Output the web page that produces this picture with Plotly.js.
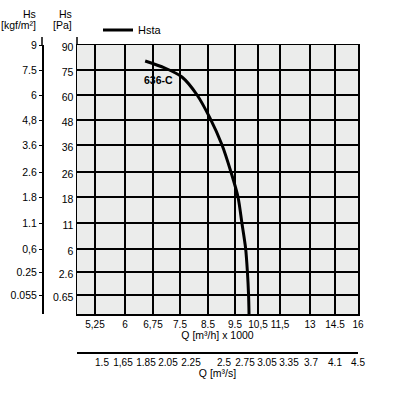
<!DOCTYPE html>
<html>
<head>
<meta charset="utf-8">
<script src="https://cdn.plot.ly/plotly-3.0.1.min.js"></script>
<style>html,body{margin:0;padding:0;background:#fff;}#chart{width:393px;height:395px;}</style>
</head>
<body>
<div id="chart"></div>
<script>
// ---- data ----
const seriesName = 'Hsta';
const curveLabel = '636-C';
const flowQ = [6.54, 7.08, 7.57, 8.11, 8.57, 9.02, 9.35, 9.63, 9.80, 9.96, 10.04, 10.09, 10.11]; // m3/h x 1000
const pressureHs = [80.4, 76.2, 70.8, 60, 49, 36, 26, 18, 11, 6.2, 2.6, 0.65, 0];              // Pa

// tick values / labels
const qTicks = [5.25, 6, 6.75, 7.5, 8.5, 9.5, 10.5, 11.5, 13, 14.5, 16];
const qTickText = ['5,25', '6', '6,75', '7.5', '8.5', '9.5', '10,5', '11,5', '13', '14.5', '16'];
const qsTickText = ['1.5', '1,65', '1.85', '2.05', '2.25', '2.5', '2.75', '3.05', '3.35', '3.7', '4.1', '4.5'];
const paTicks = [0.65, 2.6, 6, 11, 18, 26, 36, 48, 60, 75, 90];
const paTickText = ['0.65', '2.6', '6', '11', '18', '26', '36', '48', '60', '75', '90'];
const kgfTickText = ['0.055', '0.25', '0,6', '1.1', '1.8', '2.6', '3.6', '4,8', '6', '7.5', '9'];

// ---- the chart's non-uniform scales (value -> axis position) ----
const qScalePos = [18, 48, 76, 103, 131, 158, 181, 203, 233, 258, 281];
const qsScalePos = [25, 46, 69, 91, 114, 147, 168, 190, 212, 234, 258, 281];
const paScaleVals = [0].concat(paTicks);
const paScalePos = [0, 19, 42, 65, 91, 117, 142, 169, 194, 219, 244, 269];

function interp(v, vals, pos) {
  if (v <= vals[0]) {
    const s = (pos[1] - pos[0]) / (vals[1] - vals[0]);
    return pos[0] + (v - vals[0]) * s;
  }
  for (let i = 1; i < vals.length; i++) {
    if (v <= vals[i]) {
      const t = (v - vals[i - 1]) / (vals[i] - vals[i - 1]);
      return pos[i - 1] + t * (pos[i] - pos[i - 1]);
    }
  }
  const n = vals.length - 1;
  const s = (pos[n] - pos[n - 1]) / (vals[n] - vals[n - 1]);
  return pos[n] + (v - vals[n]) * s;
}

const xs = flowQ.map(q => interp(q, qTicks, qScalePos));
const ys = pressureHs.map(p => interp(p, paScaleVals, paScalePos));

const FONT = '"Liberation Sans", Arial, sans-serif';
const W = 393, H = 395;
const mL = 0, mR = 35, mT = 45, mB = 20;
const plotW = W - mL - mR, plotH = H - mT - mB;
const px2x = p => (p - mL) / plotW;
const py2y = p => (H - mB - p) / plotH;

const curve = {
  x: xs, y: ys, type: 'scatter', mode: 'lines', name: seriesName,
  line: {color: '#000', width: 3, shape: 'spline', smoothing: 0.8},
  hoverinfo: 'skip'
};
// carrier so the secondary (m3/s and kgf/m2) axes are drawn
const secondaryAxes = {
  x: [qsScalePos[0]], y: [paScalePos[1]], xaxis: 'x2', yaxis: 'y2',
  type: 'scatter', mode: 'none', showlegend: false, hoverinfo: 'skip'
};

const f105 = {family: FONT, size: 10.5, color: '#000'};
const f10 = {family: FONT, size: 10, color: '#000'};

const layout = {
  width: W, height: H,
  margin: {l: mL, r: mR, t: mT, b: mB},
  paper_bgcolor: '#fff',
  plot_bgcolor: '#ebeceb',
  font: f105,
  showlegend: true,
  legend: {x: px2x(98), xanchor: 'left', y: py2y(30), yanchor: 'middle',
           font: {family: FONT, size: 11, color: '#000'}, bgcolor: 'rgba(0,0,0,0)', borderwidth: 0},
  xaxis: {
    domain: [px2x(77), 1], range: [0, 281], fixedrange: true,
    tickmode: 'array', tickvals: qScalePos, ticktext: qTickText, tickangle: 0,
    showgrid: true, gridcolor: '#000', gridwidth: 1.5, zeroline: false,
    showline: true, mirror: true, linecolor: '#000', linewidth: 1.5,
    ticks: '', tickfont: f10,
    title: {text: 'Q [m³/h] x 1000', font: f105, standoff: 3}
  },
  xaxis2: {
    overlaying: 'x', anchor: 'free', position: py2y(352), side: 'bottom',
    range: [0, 281], fixedrange: true,
    tickmode: 'array', tickvals: qsScalePos, ticktext: qsTickText, tickangle: 0,
    showgrid: false, zeroline: false, showline: true, linecolor: '#000', linewidth: 1.5,
    ticks: '', tickfont: f10,
    title: {text: 'Q [m³/s]', font: f105, standoff: 3}
  },
  yaxis: {
    domain: [py2y(314), 1], range: [0, 269], fixedrange: true,
    tickmode: 'array', tickvals: paScalePos.slice(1), ticktext: paTickText,
    showgrid: true, gridcolor: '#000', gridwidth: 1.5, zeroline: false,
    showline: true, mirror: true, linecolor: '#000', linewidth: 1.5,
    ticks: '', tickfont: f105, ticklabelshift: 2
  },
  yaxis2: {
    overlaying: 'y', anchor: 'free', position: px2x(42), side: 'left',
    range: [0, 269], fixedrange: true,
    tickmode: 'array', tickvals: paScalePos.slice(1), ticktext: kgfTickText,
    showgrid: false, zeroline: false, showline: true, linecolor: '#000', linewidth: 1.5,
    ticks: 'outside', ticklen: 3, tickcolor: '#000', tickwidth: 1,
    tickfont: f105
  },
  shapes: [
    {type: 'line', xref: 'paper', yref: 'paper', x0: px2x(77), x1: px2x(77), y0: 1, y1: py2y(37),
     line: {color: '#000', width: 1.5}},
    {type: 'line', xref: 'paper', yref: 'paper', x0: px2x(42), x1: px2x(42), y0: 1, y1: py2y(37),
     line: {color: '#000', width: 1.5}}
  ],
  annotations: [
    {xref: 'paper', yref: 'paper', x: px2x(38), y: py2y(14), xanchor: 'right', yanchor: 'middle',
     text: 'Hs', showarrow: false, font: f105},
    {xref: 'paper', yref: 'paper', x: px2x(38), y: py2y(25), xanchor: 'right', yanchor: 'middle',
     text: '[kgf/m²]', showarrow: false, font: f105},
    {xref: 'paper', yref: 'paper', x: px2x(74), y: py2y(14), xanchor: 'right', yanchor: 'middle',
     text: 'Hs', showarrow: false, font: f105},
    {xref: 'paper', yref: 'paper', x: px2x(74), y: py2y(25), xanchor: 'right', yanchor: 'middle',
     text: '[Pa]', showarrow: false, font: f105},
    {xref: 'paper', yref: 'paper', x: px2x(158), y: py2y(80), xanchor: 'center', yanchor: 'middle',
     text: '<b>' + curveLabel + '</b>', showarrow: false, font: f105}
  ]
};

Plotly.newPlot('chart', [curve, secondaryAxes], layout, {staticPlot: true, displayModeBar: false});
</script>
</body>
</html>
